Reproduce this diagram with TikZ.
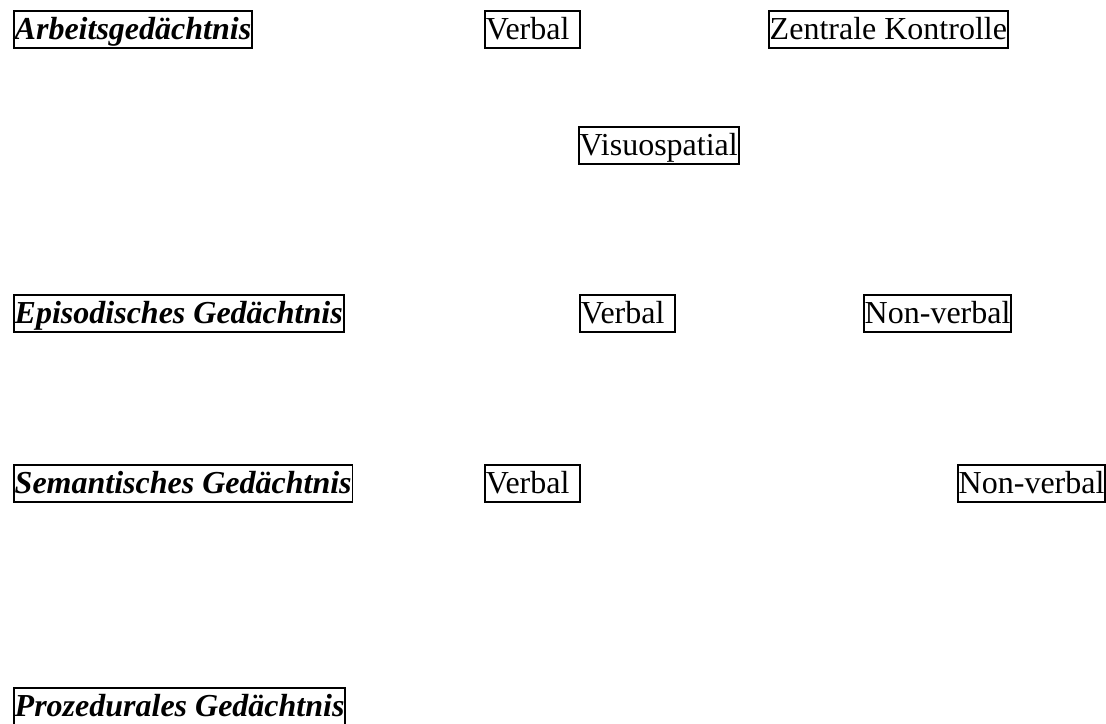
\documentclass[tikz,border=0pt]{standalone}
\usepackage{fontspec}
\setmainfont{Liberation Serif}
\begin{document}
\begin{tikzpicture}[x=0.75pt,y=-0.75pt,
  cell/.style={draw=black,line width=1.4pt,anchor=north west,inner xsep=0.6pt,inner ysep=0pt,
    text height=21.5pt,text depth=6.5pt,font=\fontsize{24}{28}\selectfont},
  head/.style={cell,font=\fontsize{24}{28}\selectfont\bfseries\itshape},
  vcell/.style={cell,minimum width=71.5pt,align=left,text width=70pt}]
\useasboundingbox[fill=white] (0,0) rectangle (1106,724);
\node[head] (arb) at (13,10) {Arbeitsgedächtnis};
\node[vcell] (v1) at (484,10) {Verbal};
\node[cell] (zk) at (768,10) {Zentrale Kontrolle};
\node[cell] (vs) at (578,126) {Visuospatial};
\node[head] (epi) at (13,294) {Episodisches Gedächtnis};
\node[vcell] (v2) at (579,294) {Verbal};
\node[cell] (nv2) at (863,294) {Non-verbal};
\node[head] (sem) at (13,464) {Semantisches Gedächtnis};
\node[vcell] (v3) at (484,464) {Verbal};
\node[cell] (nv3) at (957,464) {Non-verbal};
\node[head] (pro) at (13,687) {Prozedurales Gedächtnis};
\end{tikzpicture}
\end{document}
